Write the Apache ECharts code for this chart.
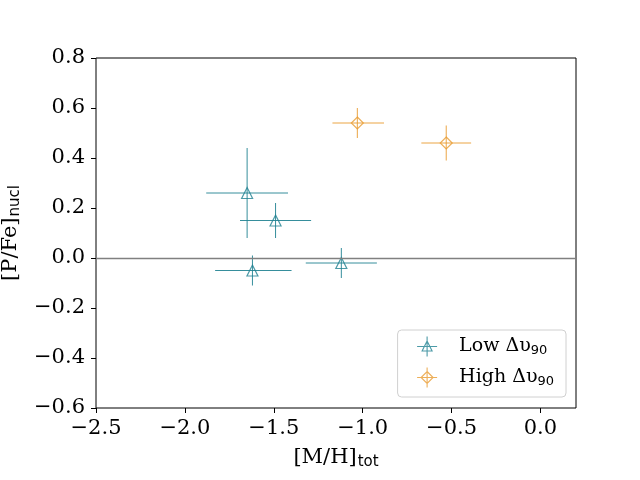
<!DOCTYPE html>
<html>
<head>
<meta charset="utf-8">
<script src="https://cdn.jsdelivr.net/npm/echarts@6/dist/echarts.min.js"></script>
<style>
  html, body { margin: 0; padding: 0; background: #fff; }
  #chart { width: 640px; height: 480px; }
</style>
</head>
<body>
<div id="chart"></div>
<script>
// 数据：Low Δυ90 组
var lowX = [-1.65, -1.49, -1.62, -1.12];
var lowY = [0.26, 0.15, -0.05, -0.02];
var lowXMin = [-1.88, -1.69, -1.83, -1.32];
var lowXMax = [-1.42, -1.29, -1.40, -0.92];
var lowYMin = [0.08, 0.08, -0.11, -0.08];
var lowYMax = [0.44, 0.22, 0.01, 0.04];

// 数据：High Δυ90 组
var highX = [-1.03, -0.53];
var highY = [0.54, 0.46];
var highXMin = [-1.17, -0.67];
var highXMax = [-0.88, -0.39];
var highYMin = [0.48, 0.39];
var highYMax = [0.60, 0.53];

var xTicks = [-2.5, -2.0, -1.5, -1.0, -0.5, 0.0];
var yTicks = [-0.6, -0.4, -0.2, 0.0, 0.2, 0.4, 0.6, 0.8];

var teal = '#1f8191';
var orange = '#e99b30';
var font = 'DejaVu Serif';
var subFont = 'DejaVu Sans';

function rows(x, y, x0, x1, y0, y1) {
    var out = [];
    for (var i = 0; i < x.length; i++) {
        out.push([x[i], y[i], x0[i], x1[i], y0[i], y1[i]]);
    }
    return out;
}
var lowData = rows(lowX, lowY, lowXMin, lowXMax, lowYMin, lowYMax);
var highData = rows(highX, highY, highXMin, highXMax, highYMin, highYMax);

function fmt(v) {
    return (v < -1e-9 ? '\u2212' : '') + Math.abs(v).toFixed(1);
}

// 误差棒
function errorBars(color) {
    return function (params, api) {
        var x = api.value(0), y = api.value(1);
        var l = api.coord([api.value(2), y]);
        var r = api.coord([api.value(3), y]);
        var b = api.coord([x, api.value(4)]);
        var t = api.coord([x, api.value(5)]);
        var st = { stroke: color, lineWidth: 0.9, fill: null };
        return {
            type: 'group',
            children: [
                { type: 'line', shape: { x1: l[0], y1: l[1], x2: r[0], y2: r[1] }, style: st },
                { type: 'line', shape: { x1: b[0], y1: b[1], x2: t[0], y2: t[1] }, style: st }
            ]
        };
    };
}

var triIcon = 'path://M0,10 L20,10 M10,0 L10,20 M10,4.5 L15,14.5 L5,14.5 Z';
var diaIcon = 'path://M0,10 L20,10 M10,0 L10,20 M10,4 L16,10 L10,16 L4,10 Z';

var nameRich = {
    a: { fontFamily: font, fontSize: 21, color: '#000' },
    s: { fontFamily: subFont, fontSize: 15, color: '#000', padding: [10, 0, 0, 1] }
};

var myChart = echarts.init(document.getElementById('chart'));
var option = {
    backgroundColor: '#fff',
    animation: false,
    grid: {
        left: 96, right: 64, top: 58, bottom: 72,
        outerBoundsMode: 'none',
        containLabel: false,
        show: true, borderColor: '#000', borderWidth: 1, backgroundColor: 'transparent'
    },
    legend: {
        orient: 'vertical',
        right: 74,
        bottom: 83,
        backgroundColor: '#fff',
        borderColor: '#d0d0d0',
        borderWidth: 1,
        borderRadius: 4,
        padding: [4, 12, 7, 17],
        itemWidth: 20,
        itemHeight: 20,
        itemGap: 6,
        textStyle: {
            fontFamily: font, fontSize: 19, color: '#000', padding: [0, 0, 0, 17],
            rich: {
                s: { fontFamily: subFont, fontSize: 13, verticalAlign: 'bottom', padding: [9, 0, 0, 0] }
            }
        },
        formatter: function (name) {
            return name === 'Low' ? 'Low \u0394\u03c5{s|90}' : 'High \u0394\u03c5{s|90}';
        },
        data: [
            { name: 'Low', icon: triIcon, itemStyle: { color: 'none', borderColor: teal, borderWidth: 1.1 } },
            { name: 'High', icon: diaIcon, itemStyle: { color: 'none', borderColor: orange, borderWidth: 1.1 } }
        ]
    },
    xAxis: {
        type: 'value',
        min: xTicks[0],
        max: 0.2,
        interval: 0.5,
        name: '{a|[M/H]}{s|tot}',
        nameLocation: 'middle',
        nameGap: 37,
        nameTextStyle: { rich: nameRich },
        axisLine: { show: false, onZero: false },
        axisTick: { show: true, length: 5, lineStyle: { color: '#000' }, customValues: xTicks },
        splitLine: { show: false },
        axisLabel: {
            fontFamily: font, fontSize: 21, color: '#000', margin: 10,
            customValues: xTicks,
            formatter: fmt
        }
    },
    yAxis: {
        type: 'value',
        min: yTicks[0],
        max: yTicks[yTicks.length - 1],
        interval: 0.2,
        name: '{a|[P/Fe]}{s|nucl}',
        nameLocation: 'middle',
        nameGap: 63,
        nameRotate: 90,
        nameTextStyle: { rich: nameRich },
        axisLine: { show: false, onZero: false },
        axisTick: { show: true, length: 5, lineStyle: { color: '#000' } },
        splitLine: { show: false },
        axisLabel: {
            fontFamily: font, fontSize: 21, color: '#000', margin: 11,
            formatter: fmt
        }
    },
    series: [
        {
            type: 'custom',
            name: 'LowErr',
            renderItem: errorBars(teal),
            data: lowData,
            encode: { x: [0, 2, 3], y: [1, 4, 5] },
            silent: true,
            z: 2
        },
        {
            type: 'custom',
            name: 'HighErr',
            renderItem: errorBars(orange),
            data: highData,
            encode: { x: [0, 2, 3], y: [1, 4, 5] },
            silent: true,
            z: 2
        },
        {
            type: 'scatter',
            name: 'Low',
            data: lowData,
            encode: { x: 0, y: 1 },
            symbol: 'triangle',
            symbolSize: 11,
            itemStyle: { color: 'rgba(0,0,0,0)', borderColor: teal, borderWidth: 1.2 },
            z: 3,
            markLine: {
                silent: true,
                symbol: 'none',
                label: { show: false },
                lineStyle: { color: '#808080', width: 1.3, type: 'solid' },
                data: [{ yAxis: 0 }]
            }
        },
        {
            type: 'scatter',
            name: 'High',
            data: highData,
            encode: { x: 0, y: 1 },
            symbol: 'diamond',
            symbolSize: [12, 12],
            itemStyle: { color: 'rgba(0,0,0,0)', borderColor: orange, borderWidth: 1.2 },
            z: 3
        }
    ]
};
myChart.setOption(option);
</script>
</body>
</html>
